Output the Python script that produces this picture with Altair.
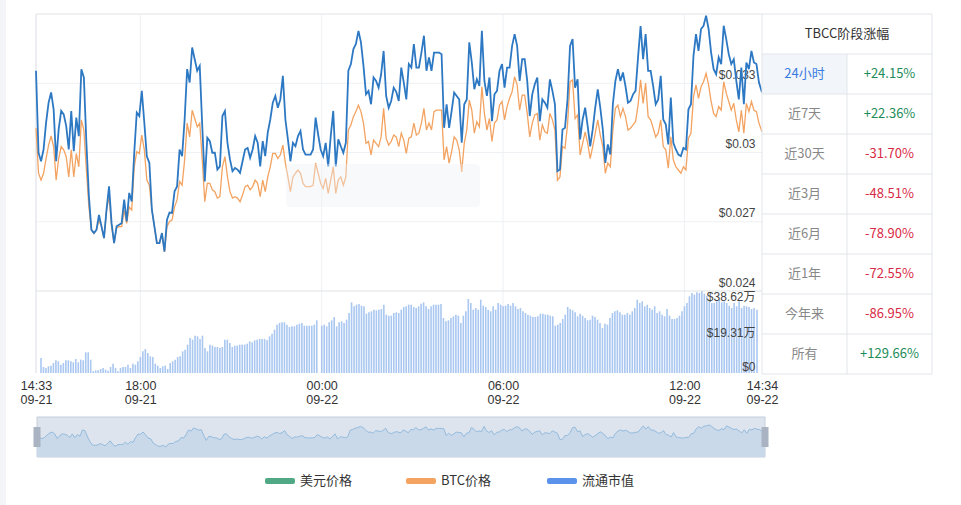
import altair as alt
import pandas as pd

FONT = "Noto Sans CJK SC"
NUM_FONT = "Liberation Sans, Noto Sans CJK SC"

# ---------------- data ----------------
# TBCC price in USD, 5-minute steps
usd_price = [
    0.03354, 0.02999, 0.02962, 0.03013, 0.03129, 0.03216, 0.03260, 0.03187, 0.02962, 0.03100,
    0.03180, 0.03165, 0.03114, 0.03013, 0.03180, 0.03006, 0.03151, 0.03071, 0.03361, 0.03325,
    0.03042, 0.02810, 0.02665, 0.02651, 0.02665, 0.02730, 0.02680, 0.02629, 0.02752, 0.02853,
    0.02694, 0.02607, 0.02680, 0.02687, 0.02694, 0.02796, 0.02701, 0.02825, 0.02788, 0.02999,
    0.03173, 0.03158, 0.03267, 0.03129, 0.02984, 0.02955, 0.02752, 0.02680, 0.02607, 0.02607,
    0.02651, 0.02571, 0.02709, 0.02740, 0.02738, 0.02832, 0.02853, 0.03013, 0.02984, 0.03143,
    0.03361, 0.03303, 0.03455, 0.03404, 0.03354, 0.03375, 0.03114, 0.02875, 0.03064, 0.03049,
    0.02999, 0.02999, 0.02926, 0.02940, 0.03158, 0.03180, 0.03042, 0.02970, 0.02919, 0.02933,
    0.02926, 0.02912, 0.02962, 0.03013, 0.03020, 0.02977, 0.03013, 0.03071, 0.03042, 0.02940,
    0.03049, 0.02984, 0.03086, 0.03143, 0.03216, 0.03245, 0.03194, 0.03230, 0.03332, 0.03143,
    0.03057, 0.02962, 0.03042, 0.03027, 0.03071, 0.03093, 0.03013, 0.02991, 0.02991, 0.02991,
    0.03013, 0.03151, 0.03078, 0.03013, 0.02984, 0.03042, 0.02940, 0.03071, 0.03180, 0.02940,
    0.03057, 0.03027, 0.02999, 0.03042, 0.03354, 0.03383, 0.03448, 0.03470, 0.03527, 0.03477,
    0.03375, 0.03252, 0.03267, 0.03209, 0.03325, 0.03310, 0.03281, 0.03339, 0.03440, 0.03245,
    0.03194, 0.03223, 0.03281, 0.03263, 0.03223, 0.03368, 0.03303, 0.03230, 0.03383, 0.03368,
    0.03470, 0.03368, 0.03368, 0.03433, 0.03506, 0.03354, 0.03412, 0.03354, 0.03433, 0.03433,
    0.03433, 0.03426, 0.03107, 0.03209, 0.03107, 0.03180, 0.03260, 0.03245, 0.03230, 0.03042,
    0.03209, 0.03230, 0.03477, 0.03390, 0.03274, 0.03317, 0.03288, 0.03527, 0.03310, 0.03245,
    0.03325, 0.03136, 0.03252, 0.03267, 0.03354, 0.03383, 0.03281, 0.03368, 0.03368, 0.03462,
    0.03513, 0.03462, 0.03310, 0.03404, 0.03404, 0.03310, 0.03158, 0.03252, 0.03296, 0.03325,
    0.03136, 0.03230, 0.03216, 0.03194, 0.03317, 0.03267, 0.03209, 0.02919, 0.02926, 0.03100,
    0.03107, 0.03230, 0.03462, 0.03491, 0.03281, 0.03317, 0.03057, 0.03143, 0.03194, 0.03114,
    0.03027, 0.03100, 0.03194, 0.03274, 0.03194, 0.03100, 0.02955, 0.03035, 0.02991, 0.03209,
    0.03310, 0.03361, 0.03310, 0.03347, 0.03288, 0.03216, 0.03223, 0.03252, 0.03267, 0.03413,
    0.03548, 0.03404, 0.03513, 0.03354, 0.03354, 0.03288, 0.03209, 0.03230, 0.03332, 0.03143,
    0.03122, 0.03035, 0.03238, 0.03042, 0.03013, 0.02991, 0.02984, 0.03020, 0.03013, 0.03187,
    0.03209, 0.03419, 0.03513, 0.03440, 0.03535, 0.03549, 0.03593, 0.03535, 0.03433, 0.03361,
    0.03339, 0.03412, 0.03383, 0.03549, 0.03491, 0.03426, 0.03383, 0.03404, 0.03310, 0.03230,
    0.03368, 0.03209, 0.03390, 0.03361, 0.03440, 0.03390, 0.03383, 0.03303, 0.03260,
]

# TBCC price in BTC (x 1e-6), hidden axis
btc_price = [
    1.654, 1.556, 1.541, 1.556, 1.588, 1.617, 1.637, 1.614, 1.541, 1.588,
    1.614, 1.607, 1.592, 1.548, 1.607, 1.548, 1.599, 1.570, 1.672, 1.650,
    1.563, 1.483, 1.433, 1.425, 1.433, 1.454, 1.440, 1.415, 1.476, 1.505,
    1.440, 1.404, 1.437, 1.440, 1.440, 1.476, 1.447, 1.483, 1.476, 1.570,
    1.603, 1.599, 1.639, 1.607, 1.541, 1.530, 1.476, 1.440, 1.404, 1.404,
    1.425, 1.385, 1.440, 1.451, 1.454, 1.483, 1.498, 1.538, 1.530, 1.585,
    1.665, 1.635, 1.693, 1.675, 1.657, 1.665, 1.585, 1.494, 1.534, 1.534,
    1.520, 1.516, 1.502, 1.505, 1.570, 1.592, 1.548, 1.516, 1.502, 1.505,
    1.502, 1.494, 1.509, 1.527, 1.530, 1.520, 1.527, 1.541, 1.534, 1.505,
    1.541, 1.516, 1.548, 1.570, 1.599, 1.599, 1.588, 1.596, 1.617, 1.578,
    1.548, 1.516, 1.548, 1.556, 1.563, 1.556, 1.534, 1.527, 1.527, 1.527,
    1.530, 1.578, 1.556, 1.534, 1.523, 1.545, 1.512, 1.541, 1.570, 1.512,
    1.541, 1.548, 1.530, 1.548, 1.650, 1.661, 1.679, 1.690, 1.704, 1.690,
    1.665, 1.621, 1.625, 1.596, 1.628, 1.621, 1.614, 1.635, 1.697, 1.632,
    1.617, 1.625, 1.639, 1.635, 1.614, 1.643, 1.628, 1.599, 1.632, 1.635,
    1.665, 1.639, 1.643, 1.665, 1.697, 1.650, 1.665, 1.650, 1.690, 1.693,
    1.693, 1.693, 1.585, 1.614, 1.578, 1.603, 1.635, 1.628, 1.607, 1.559,
    1.621, 1.650, 1.715, 1.693, 1.643, 1.668, 1.657, 1.744, 1.686, 1.650,
    1.675, 1.625, 1.665, 1.672, 1.704, 1.712, 1.672, 1.701, 1.719, 1.733,
    1.766, 1.748, 1.693, 1.726, 1.726, 1.686, 1.635, 1.665, 1.683, 1.686,
    1.628, 1.661, 1.646, 1.643, 1.686, 1.672, 1.650, 1.541, 1.548, 1.614,
    1.610, 1.661, 1.755, 1.759, 1.675, 1.683, 1.596, 1.621, 1.646, 1.621,
    1.588, 1.614, 1.643, 1.672, 1.639, 1.614, 1.556, 1.578, 1.570, 1.650,
    1.697, 1.704, 1.679, 1.697, 1.679, 1.650, 1.654, 1.661, 1.668, 1.704,
    1.759, 1.708, 1.752, 1.679, 1.672, 1.654, 1.635, 1.643, 1.672, 1.614,
    1.607, 1.567, 1.635, 1.585, 1.570, 1.563, 1.556, 1.570, 1.563, 1.632,
    1.643, 1.722, 1.748, 1.719, 1.744, 1.755, 1.773, 1.748, 1.712, 1.686,
    1.679, 1.701, 1.693, 1.755, 1.730, 1.712, 1.693, 1.708, 1.672, 1.646,
    1.693, 1.643, 1.708, 1.690, 1.712, 1.693, 1.690, 1.665, 1.646,
]

# circulating market cap, in 万 USD
market_cap = [
    7.07, 2.83, 2.36, 3.14, 3.45, 4.71, 5.97, 5.50, 3.93, 4.71,
    5.97, 5.97, 5.50, 5.02, 6.59, 5.02, 6.28, 5.97, 9.73, 9.73,
    6.28, 0.79, 1.26, 1.26, 1.88, 2.36, 1.57, 1.10, 2.83, 4.40,
    2.36, 0.79, 2.36, 2.83, 2.83, 3.93, 2.36, 4.40, 3.93, 5.50,
    7.54, 10.21, 11.30, 9.42, 7.85, 7.54, 4.40, 3.45, 2.36, 3.14,
    3.45, 1.88, 4.71, 5.50, 6.28, 7.54, 7.85, 10.21, 10.99, 13.35,
    16.49, 15.70, 17.58, 17.27, 16.01, 17.58, 11.78, 10.21, 13.35, 12.87,
    12.25, 12.25, 11.78, 12.25, 15.70, 15.70, 14.13, 12.25, 12.87, 12.87,
    13.35, 13.35, 13.35, 13.82, 14.92, 14.44, 15.39, 15.70, 16.01, 16.01,
    16.01, 15.39, 17.27, 18.53, 20.41, 22.77, 23.55, 23.86, 23.86, 22.77,
    21.67, 21.98, 21.98, 22.77, 23.24, 23.55, 22.29, 22.29, 22.29, 22.29,
    22.77, 24.81, 0.0, 22.29, 22.77, 21.98, 23.86, 24.81, 26.38, 21.98,
    23.86, 24.34, 23.55, 25.12, 28.26, 33.28, 31.40, 32.19, 32.50, 31.71,
    31.40, 27.95, 28.57, 29.05, 29.83, 29.52, 29.83, 30.14, 32.19, 27.48,
    27.00, 27.00, 28.26, 28.57, 28.26, 29.83, 31.09, 31.40, 32.19, 32.19,
    31.09, 30.62, 31.40, 32.66, 33.28, 31.40, 30.14, 31.40, 32.19, 32.19,
    32.19, 32.50, 25.91, 24.34, 24.81, 25.91, 26.69, 27.48, 27.00, 23.55,
    27.00, 29.05, 34.85, 32.97, 29.83, 30.62, 29.83, 34.54, 31.71, 31.09,
    29.83, 29.05, 31.40, 29.83, 32.97, 32.19, 31.40, 31.71, 32.50, 31.71,
    32.97, 31.40, 30.14, 30.62, 29.05, 28.26, 27.48, 27.00, 26.38, 26.38,
    26.69, 27.95, 27.95, 27.48, 27.48, 27.00, 26.69, 22.29, 22.77, 23.55,
    25.43, 27.48, 31.09, 30.14, 29.52, 28.57, 26.69, 27.95, 27.00, 25.91,
    24.81, 25.12, 27.00, 26.38, 25.12, 23.55, 21.20, 23.24, 22.77, 25.91,
    28.26, 29.05, 29.52, 28.57, 27.48, 27.48, 28.26, 27.48, 29.05, 30.62,
    34.54, 32.97, 33.76, 31.40, 32.19, 30.62, 29.83, 31.40, 28.26, 29.05,
    27.48, 26.69, 30.14, 27.00, 25.43, 25.43, 25.91, 27.00, 29.05, 31.40,
    32.97, 36.11, 37.68, 36.90, 37.99, 37.68, 38.47, 37.37, 36.42, 33.76,
    32.97, 32.97, 33.76, 34.85, 33.28, 33.76, 32.97, 31.71, 30.62, 32.97,
    31.40, 33.76, 30.62, 31.71, 31.40, 31.09, 30.14, 30.62, 29.83,
]

start_time = "2022-09-21 14:33"
end_time = "2022-09-22 14:34"
step_minutes = 5

x_ticks = ["2022-09-21 14:33", "2022-09-21 18:00", "2022-09-22 00:00",
           "2022-09-22 06:00", "2022-09-22 12:00", "2022-09-22 14:34"]
price_ticks = [0.024, 0.027, 0.030, 0.033]
price_grid = [0.024, 0.027, 0.030, 0.033, 0.036]
cap_ticks = [0, 19.31, 38.62]

periods = ["24小时", "近7天", "近30天", "近3月", "近6月", "近1年", "今年来", "所有"]
changes = [24.15, 22.36, -31.70, -48.51, -78.90, -72.55, -86.95, 129.66]
table_title = "TBCC阶段涨幅"

legend_names = ["美元价格", "BTC价格", "流通市值"]
legend_colors = ["#50a984", "#f4a361", "#5b93ec"]

# ---------------- frames ----------------
t_start = pd.Timestamp(start_time)
t_end = pd.Timestamp(end_time)
times = [t_start + pd.Timedelta(minutes=step_minutes * k) for k in range(len(usd_price) - 1)] + [t_end]
df = pd.DataFrame({"t": times, "usd": usd_price, "btc": btc_price, "cap": market_cap})


def dt(ts):
    ts = pd.Timestamp(ts)
    return alt.DateTime(year=ts.year, month=ts.month, date=ts.day, hours=ts.hour, minutes=ts.minute)


T_DOMAIN = [dt(t_start), dt(t_end)]


def xs(rng=(36, 762)):
    return alt.Scale(domain=T_DOMAIN, range=list(rng))


P_SCALE = alt.Scale(domain=[0.024, 0.036], range=[291, 14], zero=False)
B_SCALE = alt.Scale(domain=[1.30, 1.90], range=[291, 15], zero=False)
V_SCALE = alt.Scale(domain=[0, 38.62], range=[373, 291])
NAV_LO, NAV_HI = 0.0211, 0.0396
NAV_P = alt.Scale(domain=[NAV_LO, NAV_HI], range=[457, 417], zero=False)
NAV_X = (37, 765)

# left page strip
strip = alt.Chart(pd.DataFrame({"a": [0]})).mark_rect(color="#f4f5f9").encode(
    x=alt.value(0), x2=alt.value(6), y=alt.value(0), y2=alt.value(505))

# vertical grid lines
vg = pd.DataFrame({"t": [pd.Timestamp(s) for s in x_ticks[:-1]]})
vg["p0"], vg["p1"], vg["v0"], vg["v1"] = 0.024, 0.036, 0, 38.62
vgrid_p = alt.Chart(vg).mark_rule(color="#eef0f3").encode(
    x=alt.X("t:T", scale=xs(), axis=None),
    y=alt.Y("p0:Q", scale=P_SCALE, axis=None), y2="p1:Q")
vgrid_v = alt.Chart(vg).mark_rule(color="#eef0f3").encode(
    x=alt.X("t:T", scale=xs(), axis=None),
    y=alt.Y("v0:Q", scale=V_SCALE, axis=None), y2="v1:Q")
left_edge = alt.Chart(vg.iloc[:1]).mark_rule(color="#e2e4e8").encode(
    x=alt.X("t:T", scale=xs(), axis=None),
    y=alt.Y("p1:Q", scale=P_SCALE, axis=None), y2=alt.Y2("p0:Q"))
left_edge_v = alt.Chart(vg.iloc[:1]).mark_rule(color="#e2e4e8").encode(
    x=alt.X("t:T", scale=xs(), axis=None),
    y=alt.Y("v0:Q", scale=V_SCALE, axis=None), y2="v1:Q")

# horizontal grid lines
hg = pd.DataFrame({"p": price_grid})
hg["t0"], hg["t1"] = t_start, t_end
hgrid = alt.Chart(hg).mark_rule().encode(
    x=alt.X("t0:T", scale=xs(), axis=None), x2="t1:T",
    y=alt.Y("p:Q", scale=P_SCALE, axis=None),
    color=alt.condition((alt.datum.p < 0.0245) | (alt.datum.p > 0.0355),
                        alt.value("#e0e2e6"), alt.value("#eef0f3")))

base = alt.Chart(df)

AXIS_COMMON = dict(domain=False, ticks=False, tickSize=0, grid=False, title=None, labelFont=NUM_FONT)

cap_axis = alt.Axis(orient="left", offset=-755, values=cap_ticks, labelFlush=True,
                    labelExpr="datum.value == 0 ? '$0' : '$' + format(datum.value, '.2f') + '万'",
                    labelPadding=0, zindex=1, labelColor="#444", labelFontSize=12, **AXIS_COMMON)
bars = base.mark_bar(color="#a9c7f0", size=1.6).encode(
    x=alt.X("t:T", scale=xs(), axis=None),
    y=alt.Y("cap:Q", scale=V_SCALE, axis=cap_axis),
    y2=alt.datum(0))

# date line of the x labels (second row)
date_axis = alt.Axis(orient="bottom", offset=-132, values=[dt(s) for s in x_ticks], format="%m-%d",
                     labelPadding=20, labelOverlap=False, labelFlush=False,
                     labelColor="#333", labelFontSize=12.5, **AXIS_COMMON)
orange = base.mark_line(color="#f3a361", strokeWidth=1.3).encode(
    x=alt.X("t:T", scale=xs(), axis=date_axis),
    y=alt.Y("btc:Q", scale=B_SCALE, axis=None))

# time line of the x labels (first row)
time_axis = alt.Axis(orient="bottom", offset=-132, values=[dt(s) for s in x_ticks], format="%H:%M",
                     labelPadding=6, labelOverlap=False, labelFlush=False,
                     labelColor="#333", labelFontSize=12.5, **AXIS_COMMON)
price_axis = alt.Axis(orient="right", offset=-206, values=price_ticks, format="$.3~f",
                      labelAlign="right", labelBaseline="bottom", labelPadding=0, labelOffset=-2,
                      labelColor="#444", labelFontSize=12, **AXIS_COMMON)
blue = base.mark_line(color="#2d78c3", strokeWidth=1.8).encode(
    x=alt.X("t:T", scale=xs(), axis=time_axis),
    y=alt.Y("usd:Q", scale=P_SCALE, axis=price_axis))

# faint blurred watermark patch over the price panel
wm = alt.Chart(pd.DataFrame({"a": [0]})).mark_rect(color="#edf0f5", opacity=0.4, cornerRadius=4).encode(
    x=alt.value(286), x2=alt.value(480), y=alt.value(164), y2=alt.value(207))

# navigator (data zoom)
box_df = pd.DataFrame({"t0": [t_start], "t1": [t_end], "lo": [NAV_LO], "hi": [NAV_HI]})
nav_box = alt.Chart(box_df).mark_rect(fill="#dde4ed", stroke="#c4cedb", strokeWidth=1).encode(
    x=alt.X("t0:T", scale=xs(NAV_X), axis=None), x2="t1:T",
    y=alt.Y("hi:Q", scale=NAV_P, axis=None), y2="lo:Q")
nav_area = base.mark_area(color="#cad9ea").encode(
    x=alt.X("t:T", scale=xs(NAV_X), axis=None),
    y=alt.Y("usd:Q", scale=NAV_P, axis=None), y2=alt.datum(NAV_LO))
nav_line = base.mark_line(color="#93bbdd", strokeWidth=1).encode(
    x=alt.X("t:T", scale=xs(NAV_X), axis=None),
    y=alt.Y("usd:Q", scale=NAV_P, axis=None))
handles = alt.Chart(pd.DataFrame({"t": [t_start, t_end]})).mark_tick(
    orient="vertical", size=20, thickness=7, color="#a9b3c1", opacity=1).encode(
    x=alt.X("t:T", scale=xs(NAV_X), axis=None), y=alt.value(437))

# side table
TX = alt.Scale(domain=[0, 2], range=[762, 932])
TY = alt.Scale(domain=[0, 9], range=[14, 374])
hl_df = pd.DataFrame({"c0": [0], "c1": [1], "r0": [1], "r1": [2]})
t_high = alt.Chart(hl_df).mark_rect(fill="#f2f5fa").encode(
    x=alt.X("c0:Q", scale=TX, axis=None), x2="c1:Q",
    y=alt.Y("r0:Q", scale=TY, axis=None), y2="r1:Q")
hlines = pd.DataFrame({"r": list(range(len(periods) + 2))})
hlines["c0"], hlines["c1"] = 0, 2
t_hl = alt.Chart(hlines).mark_rule(color="#e2e5ea").encode(
    x=alt.X("c0:Q", scale=TX, axis=None), x2="c1:Q",
    y=alt.Y("r:Q", scale=TY, axis=None))
vlines = pd.DataFrame({"c": [0, 2, 1], "r0": [0, 0, 1], "r1": [len(periods) + 1] * 3})
t_vl = alt.Chart(vlines).mark_rule(color="#e2e5ea").encode(
    x=alt.X("c:Q", scale=TX, axis=None),
    y=alt.Y("r0:Q", scale=TY, axis=None), y2="r1:Q")
head_df = pd.DataFrame({"c": [1.0], "r": [0.5], "s": [table_title]})
t_head = alt.Chart(head_df).mark_text(fontSize=13, color="#333", font=FONT).encode(
    x=alt.X("c:Q", scale=TX, axis=None), y=alt.Y("r:Q", scale=TY, axis=None), text="s:N")
rows = pd.DataFrame({"r": [i + 1.5 for i in range(len(periods))], "period": periods, "chg": changes})
rows["cl"], rows["cv"] = 0.5, 1.5
rows["txt"] = [f"{v:+.2f}%" for v in changes]
t_lab = alt.Chart(rows).mark_text(fontSize=13, font=FONT).encode(
    x=alt.X("cl:Q", scale=TX, axis=None), y=alt.Y("r:Q", scale=TY, axis=None), text="period:N",
    color=alt.condition(alt.datum.r < 2, alt.value("#3a7be0"), alt.value("#888888")))
t_val = alt.Chart(rows).mark_text(fontSize=13, font=FONT).encode(
    x=alt.X("cv:Q", scale=TX, axis=None), y=alt.Y("r:Q", scale=TY, axis=None), text="txt:N",
    color=alt.condition(alt.datum.chg >= 0, alt.value("#1d8c58"), alt.value("#d82a45")))

# legend
leg = pd.DataFrame({"i": [0, 1, 2], "name": legend_names, "col": legend_colors})
LX = alt.Scale(domain=[0, 2], range=[280, 562])
leg_sw = alt.Chart(leg).mark_tick(orient="horizontal", size=30, thickness=6, opacity=1, cornerRadius=2).encode(
    x=alt.X("i:Q", scale=LX, axis=None), y=alt.value(481),
    color=alt.Color("col:N", scale=None, legend=None))
leg_tx = alt.Chart(leg).mark_text(align="left", baseline="middle", dx=20, fontSize=13,
                                  color="#333", font=FONT).encode(
    x=alt.X("i:Q", scale=LX, axis=None), y=alt.value(481), text="name:N")

chart = alt.layer(
    strip, vgrid_p, vgrid_v, hgrid, left_edge, left_edge_v, bars, orange, blue, wm,
    nav_box, nav_area, nav_line, handles,
    t_high, t_hl, t_vl, t_head, t_lab, t_val,
    leg_sw, leg_tx,
).resolve_scale(
    x="independent", y="independent", color="independent"
).properties(
    width=961, height=505, padding=0,
    autosize=alt.AutoSizeParams(type="none"),
).configure(font=FONT).configure_view(stroke=None)

chart.save("out.html", embed_options={"renderer": "svg", "actions": False})
